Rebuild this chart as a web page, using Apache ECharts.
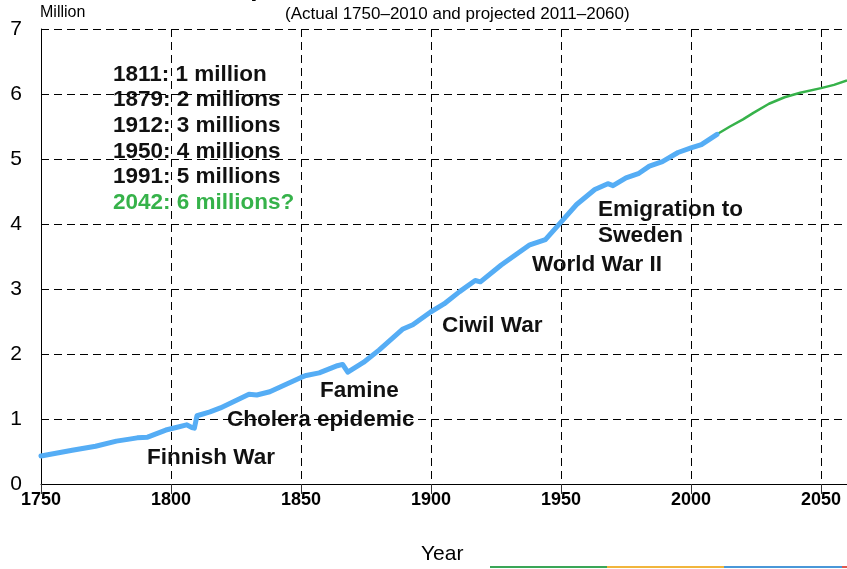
<!DOCTYPE html>
<html><head><meta charset="utf-8">
<script src="https://cdn.jsdelivr.net/npm/echarts@6/dist/echarts.min.js"></script>
<style>html,body{margin:0;padding:0;background:#fff}#c{width:847px;height:569px}</style>
</head><body><div id="c"></div>
<script>
// Actual population (million)
var actualYears = [1750,1762,1771,1779,1784,1787,1791,1798,1802,1806,1808,1809,1810,1815,1819,1830,1833,1838,1850,1852,1857,1864,1866,1868,1874,1880,1889,1893,1900,1905,1911,1917,1919,1927,1938,1944,1950,1956,1963,1968,1970,1975,1980,1984,1989,1995,2000,2004,2010];
var actualValues = [0.43,0.52,0.58,0.66,0.69,0.71,0.72,0.83,0.87,0.91,0.87,0.86,1.05,1.11,1.17,1.38,1.37,1.42,1.64,1.67,1.71,1.82,1.84,1.72,1.87,2.06,2.38,2.45,2.65,2.77,2.96,3.13,3.11,3.37,3.68,3.76,4.03,4.30,4.53,4.62,4.59,4.71,4.78,4.89,4.96,5.10,5.17,5.22,5.38];
// Projected population (million)
var projYears = [2010,2015,2020,2024,2030,2036,2042,2050,2055,2060];
var projValues = [5.38,5.50,5.61,5.71,5.85,5.95,6.02,6.09,6.14,6.21];
var yTicks = [0,1,2,3,4,5,6,7];
var xTicks = [1750,1800,1850,1900,1950,2000,2050];
var milestones = ["1811: 1 million","1879: 2 millions","1912: 3 millions","1950: 4 millions","1991: 5 millions"];
var projMilestone = "2042: 6 millions?";
var events = ["Finnish War","Cholera epidemic","Famine","Ciwil War","World War II","Emigration to","Sweden"];

function pairs(xs, ys){ return xs.map(function(x,i){return [x, ys[i]];}); }

var chart = echarts.init(document.getElementById('c'), null, {renderer:'canvas'});
var F = '"Liberation Sans", Arial, sans-serif';
var FN = '"Liberation Sans Narrow", "Liberation Sans", Arial, sans-serif';
var dash = {color:'#000', width:1, type:[8,5]};
var ann = function(text, x, y, color){
  return {type:'text', left:x, top:y, style:{text:text, fill:color||'#111', font:'bold 22.5px '+F}};
};
var graphics = [
  {type:'text', left:217, top:-24, style:{text:'Population of Finland', fill:'#000', font:'bold 26px '+F}},
  {type:'text', left:40, top:5, style:{text:'Million', fill:'#000', font:'16px '+FN}},
  {type:'text', left:285, top:6, style:{text:'(Actual 1750\u20132010 and projected 2011\u20132060)', fill:'#000', font:'17px '+FN}},
  {type:'text', left:421, top:544, style:{text:'Year', fill:'#000', font:'21px '+F}},
  {type:'rect', shape:{x:490,y:566,width:117,height:2}, style:{fill:'#3aa657'}},
  {type:'rect', shape:{x:607,y:566,width:117,height:2}, style:{fill:'#f1b53c'}},
  {type:'rect', shape:{x:724,y:566,width:118,height:2}, style:{fill:'#4a97d8'}},
  {type:'rect', shape:{x:842,y:566,width:5,height:2}, style:{fill:'#e0584f'}}
];
milestones.forEach(function(t,i){ graphics.push(ann(t, 113, 63 + i*25.6)); });
graphics.push(ann(projMilestone, 113, 63 + 5*25.6, '#36b24a'));
var evPos = [[147,446],[227,408],[320,379],[442,314],[532,253],[598,198],[598,224]];
events.forEach(function(t,i){ graphics.push(ann(t, evPos[i][0], evPos[i][1])); });

chart.setOption({
  animation:false,
  grid:{left:41, right:0, top:29, bottom:85},
  xAxis:{type:'value', min:1750, max:2060, interval:50,
    axisLine:{show:true, onZero:false, lineStyle:{color:'#000', width:1}},
    axisTick:{show:true, length:10, lineStyle:{color:'#333', width:1}},
    axisLabel:{showMaxLabel:false, color:'#000', fontFamily:F, fontWeight:'bold', fontSize:18, margin:7,
      formatter:function(v){ return xTicks.indexOf(v)>=0 ? String(v) : ''; }},
    splitLine:{show:true, lineStyle:dash}
  },
  yAxis:{type:'value', min:0, max:7, interval:1,
    axisLine:{show:true, lineStyle:{color:'#000', width:1}},
    axisTick:{show:false},
    axisLabel:{color:'#000', fontFamily:F, fontSize:21, margin:19,
      formatter:function(v){ return yTicks.indexOf(v)>=0 ? String(v) : ''; }},
    splitLine:{show:true, lineStyle:dash}
  },
  series:[
    {type:'line', data:pairs(projYears, projValues), symbol:'none', z:3,
      lineStyle:{color:'#36b24a', width:2.5}},
    {type:'line', data:pairs(actualYears, actualValues), symbol:'none', z:4,
      lineStyle:{color:'#55adf5', width:5, cap:'round', join:'round'}}
  ],
  graphic:graphics
});
</script></body></html>
